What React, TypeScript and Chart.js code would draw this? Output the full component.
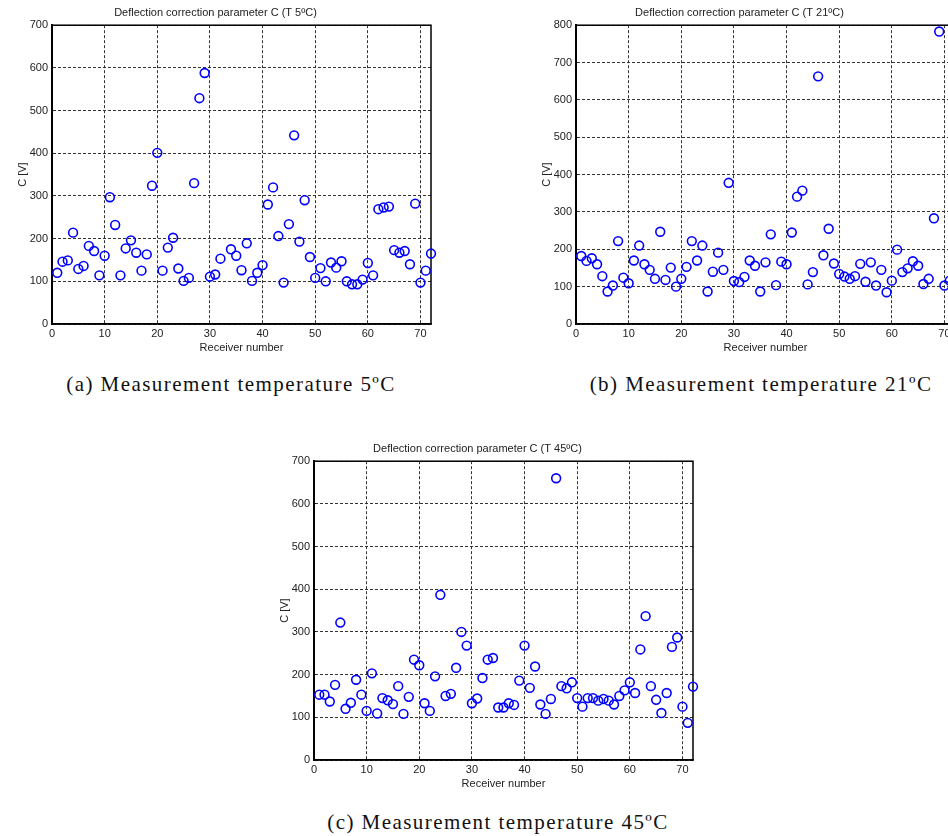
import React, { useEffect, useRef } from "react";
import { Chart, registerables } from "chart.js";

Chart.register(...registerables);

// ---- data ----
const receiverNumbers = [
  1, 2, 3, 4, 5, 6, 7, 8, 9, 10, 11, 12, 13, 14, 15, 16, 17, 18, 19, 20, 21, 22, 23, 24,
  25, 26, 27, 28, 29, 30, 31, 32, 33, 34, 35, 36, 37, 38, 39, 40, 41, 42, 43, 44, 45, 46, 47, 48,
  49, 50, 51, 52, 53, 54, 55, 56, 57, 58, 59, 60, 61, 62, 63, 64, 65, 66, 67, 68, 69, 70, 71, 72,
];

const xTickValues = [0, 10, 20, 30, 40, 50, 60, 70];
const yTicksA = [0, 100, 200, 300, 400, 500, 600, 700];
const yTicksB = [0, 100, 200, 300, 400, 500, 600, 700, 800];
const yTicksC = [0, 100, 200, 300, 400, 500, 600, 700];

const cT5: (number | null)[] = [
  120, 146, 149, 214, 129, 136, 183, 171, 114, 160,
  297, 232, 114, 177, 196, 167, 125, 163, 324, 401,
  125, 179, 202, 130, 101, 108, 330, 529, 588, 111,
  116, 153, null, 175, 160, 126, 189, 101, 120, 138,
  280, 320, 206, 97, 234, 442, 193, 290, 157, 108,
  131, 100, 144, 132, 147, 100, 93, 93, 104, 143,
  114, 269, 273, 275, 173, 167, 171, 140, 282, 97,
  125, 165,
];

const cT21: (number | null)[] = [
  182, 169, 176, 160, 128, 87, 103, 222, 124, 109,
  170, 210, 160, 145, 121, 247, 118, 151, 100, 121,
  153, 222, 170, 210, 87, 140, 191, 145, 378, 115,
  112, 126, 170, 156, 87, 165, 240, 104, 167, 160,
  245, 341, 357, 106, 139, 663, 184, 255, 162, 134,
  127, 121, 128, 161, 113, 165, 103, 145, 85, 116,
  199, 139, 149, 168, 156, 107, 121, 283, 783, 103,
  116, 150,
];

const cT45: (number | null)[] = [
  153, 153, 137, 176, 322, 120, 134, 188, 153, 115,
  203, 109, 145, 140, 131, 173, 108, 148, 235, 222,
  133, 115, 196, 387, 150, 155, 216, 300, 268, 133,
  144, 192, 235, 239, 123, 123, 133, 129, 186, 268,
  169, 219, 130, 108, 143, 660, 173, 168, 182, 145,
  125, 145, 145, 139, 143, 139, 130, 150, 163, 182,
  157, 259, 337, 173, 141, 110, 157, 265, 287, 125,
  87, 172,
];

const titles = [
  "Deflection correction parameter C (T 5ºC)",
  "Deflection correction parameter C (T 21ºC)",
  "Deflection correction parameter C (T 45ºC)",
];
const captions = [
  "(a) Measurement temperature 5ºC",
  "(b) Measurement temperature 21ºC",
  "(c) Measurement temperature 45ºC",
];

const SANS = "'Liberation Sans', Arial, Helvetica, sans-serif";
const TEXT = "#222";

const framePlugin = {
  id: "frameBox",
  beforeDatasetsDraw(chart: any) {
    const { ctx, chartArea } = chart;
    ctx.save();
    ctx.strokeStyle = "#000";
    ctx.lineWidth = 1.5;
    ctx.setLineDash([]);
    ctx.strokeRect(chartArea.left, chartArea.top, chartArea.right - chartArea.left, chartArea.bottom - chartArea.top);
    ctx.restore();
  },
};

function ScatterPanel(props: {
  title: string;
  values: (number | null)[];
  yTicks: number[];
  left: number;
  top: number;
}) {
  const ref = useRef<HTMLCanvasElement>(null);
  useEffect(() => {
    const points = receiverNumbers
      .map((x, i) => ({ x, y: props.values[i] }))
      .filter((p) => p.y !== null && p.y !== undefined);
    const yMax = props.yTicks[props.yTicks.length - 1];
    const font = { family: SANS, size: 11, weight: "normal" as const };
    const chart = new Chart(ref.current as HTMLCanvasElement, {
      type: "scatter",
      data: {
        datasets: [
          {
            data: points as any,
            borderColor: "#0000ff",
            backgroundColor: "rgba(0,0,0,0)",
            pointRadius: 4.4,
            pointHoverRadius: 4.4,
            pointBorderWidth: 1.6,
            pointHoverBorderWidth: 1.6,
            clip: false as any,
          },
        ],
      },
      options: {
        responsive: false,
        animation: false,
        devicePixelRatio: 1,
        events: [],
        layout: { padding: { left: 0, top: 0, right: 39, bottom: 0 } },
        plugins: {
          legend: { display: false },
          tooltip: { enabled: false },
          title: {
            display: true,
            text: props.title,
            color: TEXT,
            font,
            padding: { top: 6, bottom: 6 },
          },
        },
        scales: {
          x: {
            type: "linear",
            min: 0,
            max: 72,
            afterBuildTicks: (s: any) => {
              s.ticks = xTickValues.map((v) => ({ value: v }));
            },
            afterFit: (s: any) => {
              s.height = 36;
            },
            grid: { color: "#333", lineWidth: 1, drawTicks: false },
            border: { display: true, color: "#000", width: 1.5, dash: [3, 2] },
            ticks: { padding: 3, color: TEXT, font, maxRotation: 0, autoSkip: false },
            title: {
              display: true,
              text: "Receiver number",
              color: TEXT,
              font,
              padding: { top: 0, bottom: 5.4 },
            },
          },
          y: {
            type: "linear",
            min: 0,
            max: yMax,
            afterBuildTicks: (s: any) => {
              s.ticks = props.yTicks.map((v) => ({ value: v }));
            },
            afterFit: (s: any) => {
              s.width = 52;
            },
            grid: { color: "#333", lineWidth: 1, drawTicks: false },
            border: { display: true, color: "#000", width: 2, dash: [3, 2] },
            ticks: { padding: 4, color: TEXT, font, autoSkip: false },
            title: {
              display: true,
              text: "C [V]",
              color: TEXT,
              font,
              padding: { top: 16.4, bottom: 0 },
            },
          },
        },
      },
      plugins: [framePlugin],
    });
    return () => chart.destroy();
  }, []);
  return (
    <canvas
      ref={ref}
      width={470}
      height={360}
      style={{ position: "absolute", left: props.left, top: props.top, width: 470, height: 360 }}
    />
  );
}

function Caption(props: { text: string; cx: number; cy: number }) {
  return (
    <div
      style={{
        position: "absolute",
        left: props.cx,
        top: props.cy,
        transform: "translate(-50%, -50%)",
        whiteSpace: "nowrap",
        fontFamily: "'Liberation Serif', 'Times New Roman', serif",
        fontSize: 21,
        letterSpacing: "1.45px",
        color: "#111",
        lineHeight: "24px",
      }}
    >
      {props.text}
    </div>
  );
}

export default function App() {
  return (
    <div
      style={{
        position: "absolute",
        left: 0,
        top: 0,
        width: 948,
        height: 836,
        overflow: "hidden",
        background: "#fff",
      }}
    >
      <ScatterPanel title={titles[0]} values={cT5} yTicks={yTicksA} left={0} top={0} />
      <ScatterPanel title={titles[1]} values={cT21} yTicks={yTicksB} left={524} top={0} />
      <ScatterPanel title={titles[2]} values={cT45} yTicks={yTicksC} left={262} top={436} />
      <Caption text={captions[0]} cx={231} cy={384} />
      <Caption text={captions[1]} cx={761} cy={384} />
      <Caption text={captions[2]} cx={498} cy={822} />
    </div>
  );
}
